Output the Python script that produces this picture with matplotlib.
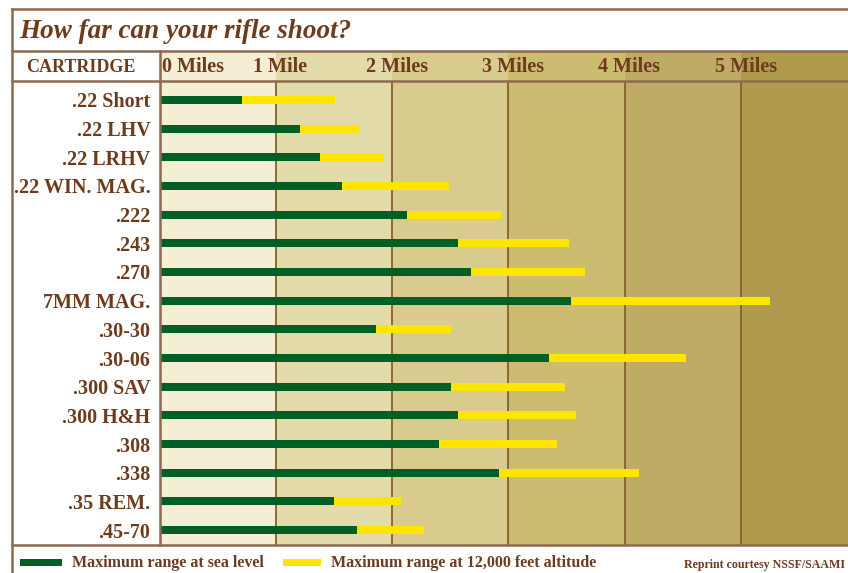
import numpy as np
import matplotlib
matplotlib.use("Agg")
import matplotlib.pyplot as plt
from matplotlib.lines import Line2D

# data (miles)
cartridges = [".22 Short", ".22 LHV", ".22 LRHV", ".22 WIN. MAG.", ".222", ".243",
              ".270", "7MM MAG.", ".30-30", ".30-06", ".300 SAV", ".300 H&H",
              ".308", ".338", ".35 REM.", ".45-70"]
sea_level = [0.71, 1.21, 1.38, 1.57, 2.13, 2.57, 2.68, 3.54, 1.86, 3.35,
             2.51, 2.57, 2.40, 2.92, 1.50, 1.70]
altitude = [1.51, 1.72, 1.93, 2.49, 2.94, 3.52, 3.66, 5.25, 2.51, 4.53,
            3.49, 3.58, 3.42, 4.12, 2.08, 2.27]
mile_ticks = [0, 1, 2, 3, 4, 5]
mile_labels = ["0 Miles", "1 Mile", "2 Miles", "3 Miles", "4 Miles", "5 Miles"]

band_colors = ["#f3eed4", "#e3dcaa", "#d9cb8d", "#cbbc6f", "#bfab66", "#b09a4e"]
brown = "#6e3b1c"
frame = "#8c6a50"
grid = "#86602f"
green = "#005f24"
yellow = "#ffe500"
serif = ["Liberation Serif", "DejaVu Serif"]

W, H = 848, 573
fig = plt.figure(figsize=(W / 100, H / 100), dpi=100)
fig.patch.set_facecolor("white")


def fx(px):
    return px / W


def fy(py):
    return 1 - py / H


x0 = 159.5
xmax = (W - x0) / 116.3

# header strip with the mile labels
hdr = fig.add_axes([fx(x0), fy(81), 1 - fx(x0), (81 - 51) / H])
for i, c in enumerate(band_colors):
    hdr.axvspan(i, i + 1 if i < 5 else xmax, color=c, lw=0)
hdr.set_xlim(0, xmax)
hdr.set_ylim(0, 1)
hdr.axis("off")
for t, lab in zip(mile_ticks, mile_labels):
    if t == 0:
        hdr.text(0.02, 0.45, lab, ha="left", va="center", fontsize=14.5,
                 fontweight="bold", family=serif, color=brown)
    else:
        hdr.text(t + 0.04, 0.45, lab, ha="center", va="center", fontsize=14.5,
                 fontweight="bold", family=serif, color=brown)

# main bar area
ax = fig.add_axes([fx(x0), fy(545), 1 - fx(x0), (545 - 81) / H])
for i, c in enumerate(band_colors):
    ax.axvspan(i, i + 1 if i < 5 else xmax, color=c, lw=0, zorder=0)
for t in mile_ticks[1:]:
    ax.axvline(t, color=grid, lw=1.3, zorder=1)

y = np.arange(len(cartridges))
ax.barh(y, altitude, height=0.28, color=yellow, zorder=2)
ax.barh(y, sea_level, height=0.28, color=green, zorder=3)
ax.set_xlim(0, xmax)
ax.set_ylim(15.52, -0.66)
ax.set_xticks([])
ax.set_yticks(y)
ax.set_yticklabels(cartridges, fontsize=14.5, fontweight="bold", family=serif,
                   color=brown)
ax.tick_params(axis="y", length=0, pad=6.5)
for s in ax.spines.values():
    s.set_visible(False)

# frame lines
lines = [
    ((12, W), (9, 9)),
    ((12, 12), (9, H)),
    ((12, W), (51, 51)),
    ((12, W), (81, 81)),
    ((12, W), (545, 545)),
    ((x0, x0), (51, 545)),
]
for xs, ys in lines:
    fig.add_artist(Line2D([fx(v) for v in xs], [fy(v) for v in ys],
                          color=frame, lw=1.8))

fig.text(fx(19), fy(31), "How far can your rifle shoot?", ha="left", va="center",
         fontsize=19.5, style="italic", fontweight="bold", family=serif, color=brown)
fig.text(fx(81), fy(67), "CARTRIDGE", ha="center", va="center", fontsize=13,
         fontweight="bold", family=serif, color=brown)

# legend row
fig.add_artist(plt.Rectangle((fx(20), fy(566)), fx(42), 7 / H, color=green, lw=0))
fig.text(fx(72), fy(563), "Maximum range at sea level", ha="left", va="center",
         fontsize=11.5, fontweight="bold", family=serif, color=brown)
fig.add_artist(plt.Rectangle((fx(283), fy(566)), fx(38), 7 / H, color=yellow, lw=0))
fig.text(fx(331), fy(563), "Maximum range at 12,000 feet altitude", ha="left",
         va="center", fontsize=11.5, fontweight="bold", family=serif, color=brown)
fig.text(fx(684), fy(565), "Reprint courtesy NSSF/SAAMI", ha="left", va="center",
         fontsize=8.6, fontweight="bold", family=serif, color=brown)

fig.savefig("out.png", dpi=100)
